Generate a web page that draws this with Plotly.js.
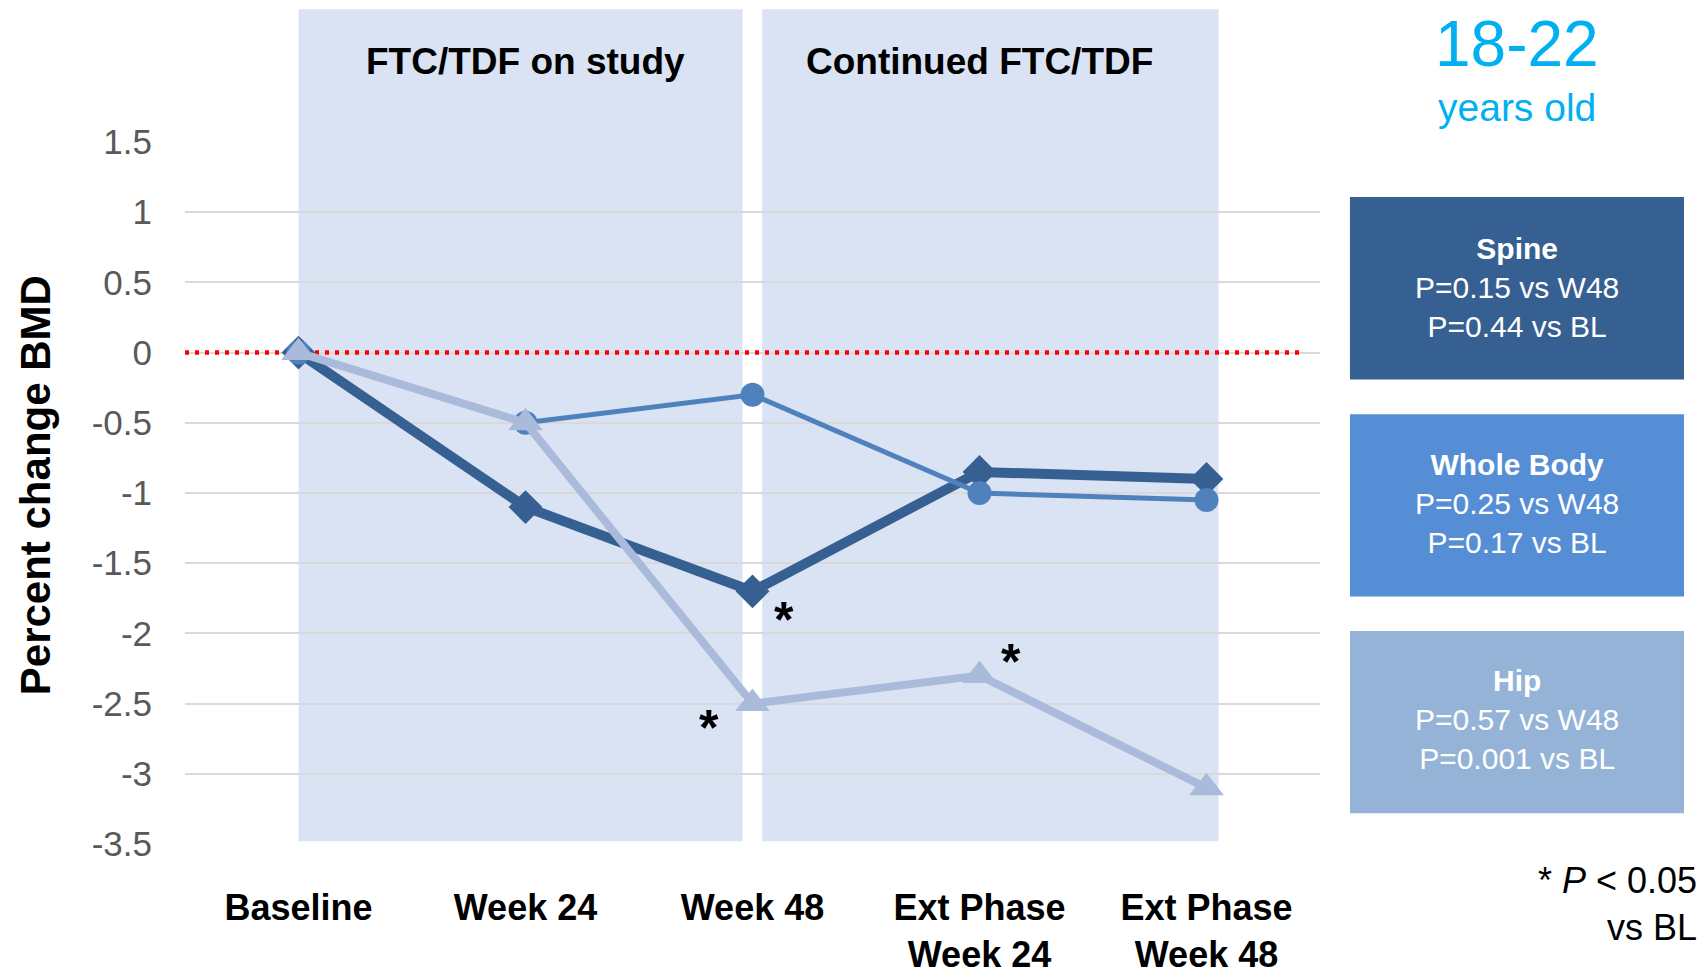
<!DOCTYPE html>
<html><head><meta charset="utf-8">
<script src="https://cdn.plot.ly/plotly-3.0.1.min.js"></script>
<style>html,body{margin:0;padding:0;background:#fff;}#chart{width:1704px;height:972px;}</style>
</head><body><div id="chart"></div>
<script>
// ---- data ----
const categories = ['Baseline', 'Week 24', 'Week 48', 'Ext Phase<br>Week 24', 'Ext Phase<br>Week 48'];
const spine = [0, -1.1, -1.7, -0.85, -0.9];
const wholeBody = [0, -0.5, -0.3, -1.0, -1.05];
const hip = [0, -0.5, -2.5, -2.3, -3.1];
const yTickVals = [1.5, 1, 0.5, 0, -0.5, -1, -1.5, -2, -2.5, -3, -3.5];
const yTickText = ['1.5', '1', '0.5', '0', '-0.5', '-1', '-1.5', '-2', '-2.5', '-3', '-3.5'];
const yTitle = 'Percent change BMD';
const phaseLabels = ['FTC/TDF on study', 'Continued FTC/TDF'];
const boxTitles = ['Spine', 'Whole Body', 'Hip'];
const pVsW48 = ['P=0.15 vs W48', 'P=0.25 vs W48', 'P=0.57 vs W48'];
const pVsBL = ['P=0.44 vs BL', 'P=0.17 vs BL', 'P=0.001 vs BL'];
const ageLabel = '18-22';
const ageSub = 'years old';
const footnote = '* <i>P</i> &lt; 0.05<br>vs BL';

// ---- styles ----
const FONT = 'Arial, "Liberation Sans", sans-serif';
const cSpine = '#376092', cWhole = '#4F81BD', cHip = '#AABADA';
const boxColors = ['#376092', '#558ED5', '#95B3D7'];
const shade = '#DAE3F3';

const traces = [
  { x: categories, y: spine, name: 'Spine', type: 'scatter', mode: 'lines+markers',
    line: { color: cSpine, width: 10 }, marker: { symbol: 'diamond', size: 26, color: cSpine } },
  { x: categories, y: wholeBody, name: 'Whole Body', type: 'scatter', mode: 'lines+markers',
    line: { color: cWhole, width: 5 }, marker: { symbol: 'circle', size: 24, color: cWhole } },
  { x: categories, y: hip, name: 'Hip', type: 'scatter', mode: 'lines+markers',
    line: { color: cHip, width: 8 }, marker: { symbol: 'triangle-up', size: 30, color: cHip } }
];

const shapes = [
  { type: 'rect', xref: 'x', yref: 'paper', x0: 0, x1: 1.956, y0: 0.004, y1: 1.189,
    fillcolor: shade, line: { width: 0 }, layer: 'below' },
  { type: 'rect', xref: 'x', yref: 'paper', x0: 2.043, x1: 4.053, y0: 0.004, y1: 1.189,
    fillcolor: shade, line: { width: 0 }, layer: 'below' },
  { type: 'line', xref: 'x', yref: 'y', x0: -0.5, x1: 4.42, y0: 0, y1: 0,
    line: { color: '#FF0000', width: 4.5, dash: '4px,6px' }, layer: 'between' }
];
const boxY = [[0.6618, 0.9217], [0.3524, 0.6121], [0.0439, 0.3034]];
boxY.forEach((b, i) => shapes.push({
  type: 'rect', xref: 'paper', yref: 'paper', x0: 1.0264, x1: 1.3207, y0: b[0], y1: b[1],
  fillcolor: boxColors[i], line: { width: 0 }, layer: 'above'
}));

const annotations = [];
phaseLabels.forEach((t, i) => annotations.push({
  xref: 'x', yref: 'paper', x: i === 0 ? 1 : 3, y: 1.115, text: '<b>' + t + '</b>',
  showarrow: false, xanchor: 'center', yanchor: 'middle',
  font: { family: FONT, size: 37, color: '#000' }
}));
const boxTextY = [0.793, 0.485, 0.177];
boxTitles.forEach((t, i) => annotations.push({
  xref: 'paper', yref: 'paper', x: 1.1736, y: boxTextY[i],
  text: '<b>' + t + '</b><br>' + pVsW48[i] + '<br>' + pVsBL[i],
  showarrow: false, xanchor: 'center', yanchor: 'middle', align: 'center',
  font: { family: FONT, size: 30, color: '#FFFFFF' }
}));
annotations.push({ xref: 'paper', yref: 'paper', x: 1.1736, y: 1.139, text: ageLabel,
  showarrow: false, xanchor: 'center', yanchor: 'middle',
  font: { family: FONT, size: 64, color: '#00B0F0' } });
annotations.push({ xref: 'paper', yref: 'paper', x: 1.1736, y: 1.049, text: ageSub,
  showarrow: false, xanchor: 'center', yanchor: 'middle',
  font: { family: FONT, size: 39, color: '#00B0F0' } });
annotations.push({ xref: 'paper', yref: 'paper', x: 1.334, y: -0.085, text: footnote,
  showarrow: false, xanchor: 'right', yanchor: 'middle', align: 'right',
  font: { family: FONT, size: 36, color: '#000' } });
annotations.push({ xref: 'paper', yref: 'paper', x: -0.1322, y: 0.511, text: '<b>' + yTitle + '</b>',
  textangle: -90, showarrow: false, xanchor: 'center', yanchor: 'middle',
  font: { family: FONT, size: 42, color: '#000' } });
// significance asterisks attached to data points
const stars = [
  { x: categories[2], y: spine[2], dx: 31, dy: -29 },
  { x: categories[2], y: hip[2], dx: -44, dy: -24 },
  { x: categories[3], y: hip[3], dx: 31, dy: 14 }
];
stars.forEach(s => annotations.push({
  xref: 'x', yref: 'y', x: s.x, y: s.y, xshift: s.dx, yshift: s.dy, text: '<b>*</b>',
  showarrow: false, xanchor: 'center', yanchor: 'middle',
  font: { family: FONT, size: 50, color: '#000' }
}));

const layout = {
  width: 1704, height: 972,
  margin: { l: 185, r: 384, t: 142, b: 128 },
  paper_bgcolor: '#fff', plot_bgcolor: 'rgba(0,0,0,0)',
  showlegend: false,
  font: { family: FONT },
  xaxis: {
    type: 'category', range: [-0.5, 4.5], showgrid: false, showline: false, zeroline: false,
    ticks: '', ticklabelstandoff: 39,
    tickfont: { family: FONT, size: 36, color: '#000', weight: 'bold' }
  },
  yaxis: {
    range: [-3.5, 1.5], tickvals: yTickVals, ticktext: yTickText,
    showgrid: true, gridcolor: '#D9D9D9', gridwidth: 2, zeroline: false, showline: false,
    ticks: '', ticklabelstandoff: 32,
    tickfont: { family: FONT, size: 35, color: '#595959' },
    automargin: false
  },
  shapes: shapes,
  annotations: annotations
};

Plotly.newPlot('chart', traces, layout, { displayModeBar: false, staticPlot: true });
</script>
</body></html>
